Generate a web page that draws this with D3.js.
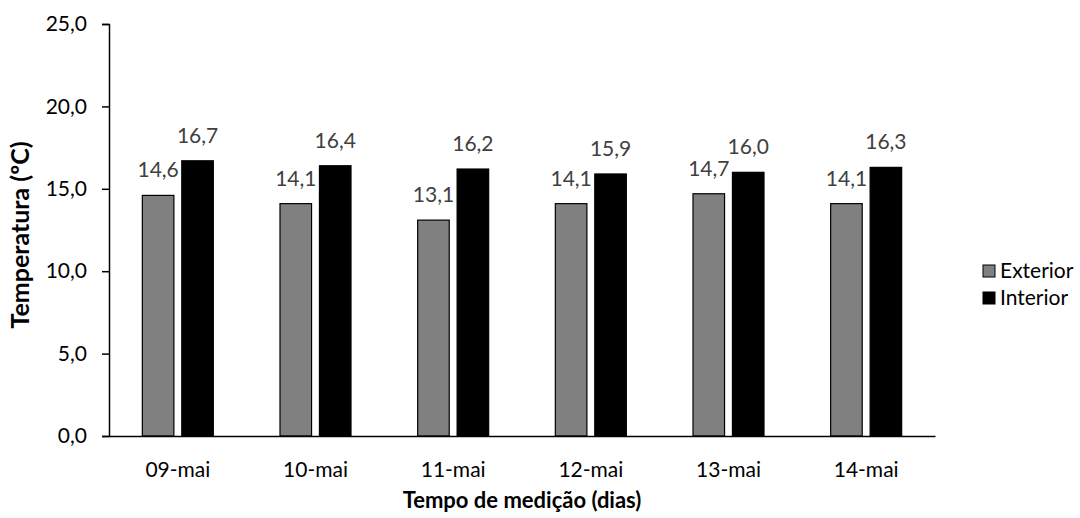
<!DOCTYPE html>
<html><head><meta charset="utf-8">
<script src="https://cdn.jsdelivr.net/npm/d3@7"></script>
<style>body{margin:0;background:#fff}svg{display:block}</style>
</head><body><div id="chart"></div>
<script>
const categories = ["09-mai","10-mai","11-mai","12-mai","13-mai","14-mai"];
const exterior = [14.6,14.1,13.1,14.1,14.7,14.1];
const interior = [16.7,16.4,16.2,15.9,16.0,16.3];
const seriesNames = ["Exterior","Interior"];
const yTicks = [0,5,10,15,20,25];

const W=1080,H=518;
const m={left:109,right:145,top:24,bottom:82};
const svg=d3.select("#chart").append("svg").attr("width",W).attr("height",H);
const font="Lato, 'Open Sans', sans-serif";
const fs=21;
const x=d3.scaleBand().domain(categories).range([m.left,W-m.right]);
const y=d3.scaleLinear().domain([0,25]).range([H-m.bottom,m.top]);
const sub=d3.scaleBand().domain(seriesNames).range([-35.5,35.5]).paddingInner(0.2);
const colors={Exterior:"#808080",Interior:"#000000"};
const data=categories.map((c,i)=>({c,vals:[{s:"Exterior",v:exterior[i]},{s:"Interior",v:interior[i]}]}));

const fmt=v=>v.toFixed(1).replace(".",",");

// y axis
const ya=svg.append("g").attr("transform",`translate(${m.left},0)`)
 .call(d3.axisLeft(y).tickValues(yTicks).tickFormat(fmt).tickSizeOuter(0).tickSize(7).tickPadding(15));
ya.select(".domain").attr("stroke","#000").attr("stroke-width",1.5);
ya.selectAll(".tick line").attr("stroke","#000").attr("stroke-width",1.5);
ya.selectAll("text").attr("font-family",font).attr("font-size",fs).attr("fill","#000");

const g=svg.append("g");
const grp=g.selectAll("g.cat").data(data).join("g")
 .attr("transform",d=>`translate(${x(d.c)+x.bandwidth()/2},0)`);
grp.selectAll("rect").data(d=>d.vals).join("rect")
 .attr("x",d=>sub(d.s)).attr("width",sub.bandwidth())
 .attr("y",d=>y(d.v)).attr("height",d=>y(0)-y(d.v))
 .attr("fill",d=>colors[d.s]).attr("stroke","#000").attr("stroke-width",1.2);
grp.selectAll("text").data(d=>d.vals).join("text")
 .attr("x",d=>sub(d.s)+sub.bandwidth()/2).attr("y",d=>y(d.v)-18)
 .attr("text-anchor","middle").attr("font-family",font).attr("font-size",fs)
 .attr("fill","#404040").text(d=>fmt(d.v));

// x axis
const xa=svg.append("g").attr("transform",`translate(0,${y(0)})`)
 .call(d3.axisBottom(x).tickSize(0).tickPadding(26));
xa.select(".domain").attr("stroke","#000").attr("stroke-width",1.5);
xa.selectAll("text").attr("font-family",font).attr("font-size",fs).attr("fill","#000");

// titles
svg.append("text").attr("x",522).attr("y",508).attr("text-anchor","middle")
 .attr("font-family",font).attr("font-size",22).attr("font-weight","bold").text("Tempo de medição (dias)");
svg.append("text").attr("transform","translate(29,235) rotate(-90)").attr("text-anchor","middle")
 .attr("font-family",font).attr("font-size",25).attr("font-weight","bold").text("Temperatura (ºC)");

// legend
const lg=svg.append("g").attr("transform","translate(983,0)");
seriesNames.forEach((s,i)=>{
  const yy=265+i*27;
  lg.append("rect").attr("x",0).attr("y",yy).attr("width",12).attr("height",12)
    .attr("fill",colors[s]).attr("stroke","#000").attr("stroke-width",1);
  lg.append("text").attr("x",17).attr("y",yy+13).attr("font-family",font).attr("font-size",fs)
    .attr("fill","#000").text(s);
});
</script></body></html>
